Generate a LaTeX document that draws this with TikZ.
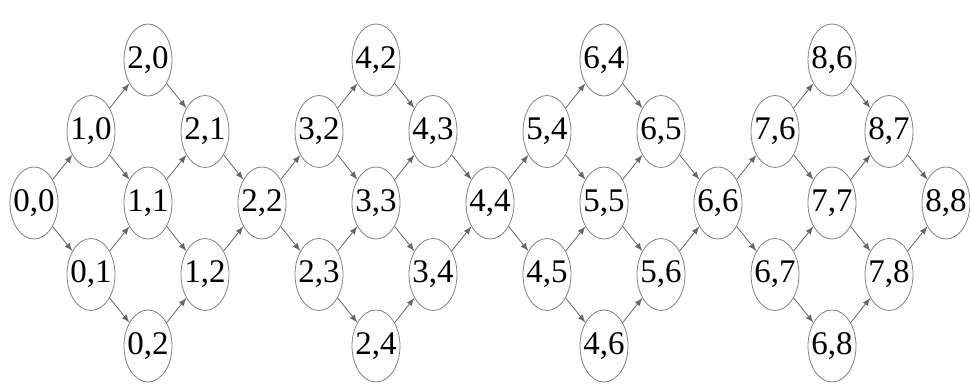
\documentclass[tikz,border=0pt]{standalone}
\usepackage{fontspec}
\setmainfont{Liberation Serif}
\usetikzlibrary{shapes.geometric}

\begin{document}
\begin{tikzpicture}[x=28.5pt, y=35.75pt, font=\fontsize{16.5pt}{19pt}\selectfont, line join=round, line cap=round, >=latex,
	state/.style={ellipse, draw=gray, minimum width=24pt, minimum height=36pt, inner xsep=-3pt, inner ysep=0pt},
	pass/.style={->, draw=black!60}]
	\useasboundingbox (-17pt,-91pt) rectangle (468pt,101.5pt);
	% bốn khối hình thoi, mỗi khối 3x3 trạng thái
	\foreach \k in {0,...,3}
	\foreach \a in {0,1,2}
	\foreach \b in {0,1,2}{
		\pgfmathtruncatemacro{\i}{2*\k+\a}
		\pgfmathtruncatemacro{\j}{2*\k+\b}
		\pgfmathtruncatemacro{\dup}{(\k>0)*(\a+\b==0)}
		\ifnum\dup=0
		\node[state] (n\i\j) at (\i+\j, \i-\j) {\i,\j};
		\fi
	}
	% các cung (i,j) -> (i+1,j) và (i,j) -> (i,j+1)
	\foreach \k in {0,...,3}
	\foreach \a in {0,1,2}
	\foreach \b in {0,1,2}{
		\pgfmathtruncatemacro{\i}{2*\k+\a}
		\pgfmathtruncatemacro{\j}{2*\k+\b}
		\pgfmathtruncatemacro{\ii}{\i+1}
		\pgfmathtruncatemacro{\jj}{\j+1}
		\ifnum\a<2 \draw[pass] (n\i\j) -- (n\ii\j); \fi
		\ifnum\b<2 \draw[pass] (n\i\j) -- (n\i\jj); \fi
	}
\end{tikzpicture}
\end{document}
